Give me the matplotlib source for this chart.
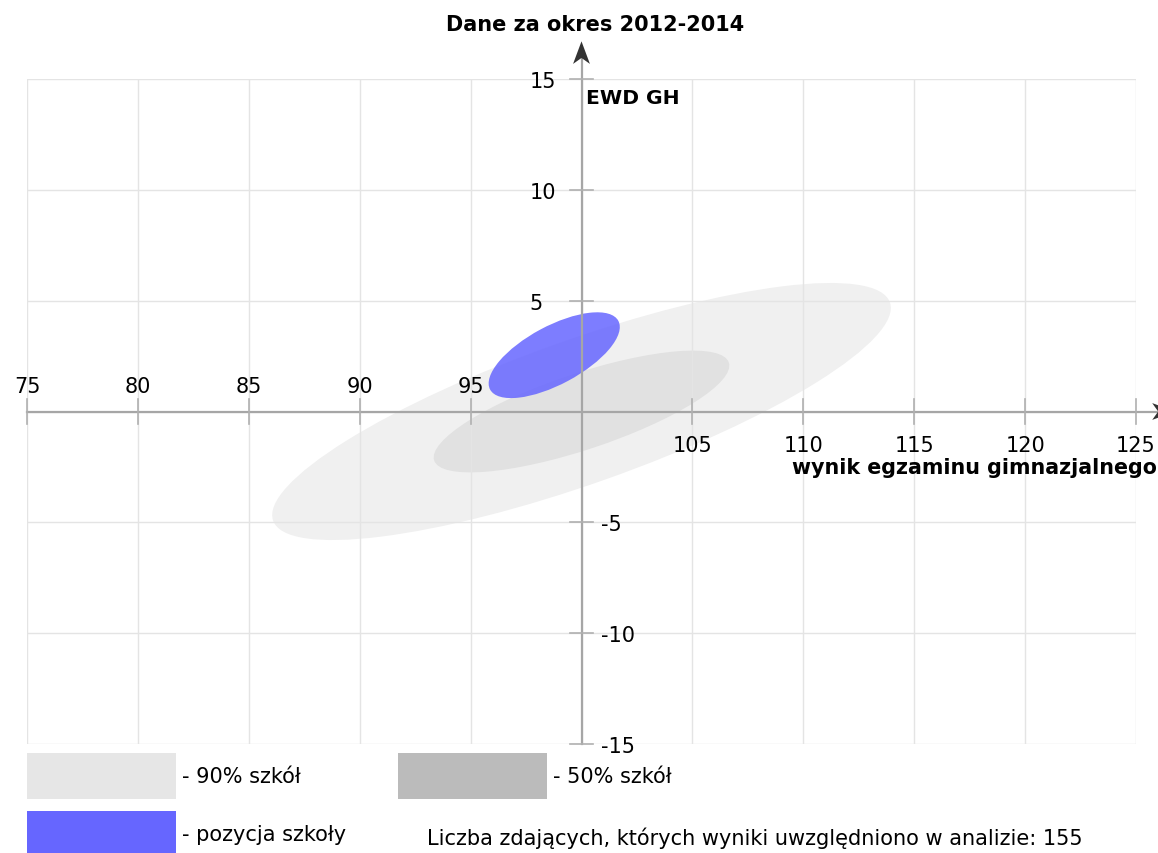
import matplotlib.pyplot as plt
from matplotlib.patches import Ellipse, Polygon, Rectangle

# ellipses: 90% of schools, 50% of schools, school position
ell_names = ["90% szkół", "50% szkół", "pozycja szkoły"]
ell_x = [100.0, 100.0, 98.77]
ell_y = [0.0, 0.0, 2.54]
ell_w = [29.5, 14.0, 6.56]
ell_h = [6.5, 3.44, 2.63]
ell_angle = [19.5, 18.4, 28.2]

x_ticks = [75, 80, 85, 90, 95, 105, 110, 115, 120, 125]
y_ticks = [15, 10, 5, -5, -10, -15]
n_students = 155

title = "Dane za okres 2012-2014"
x_label = "wynik egzaminu gimnazjalnego"
y_label = "EWD GH"

W, H = 1158, 854
fig = plt.figure(figsize=(W / 100, H / 100), dpi=100)
ax = fig.add_axes([27 / W, 1 - 745 / H, (1136 - 27) / W, (745 - 80) / H])
ax.set_xlim(75, 125)
ax.set_ylim(-15, 15)
for s in ax.spines.values():
    s.set_visible(False)
ax.set_xticks([])
ax.set_yticks([])

grid_c = "#e4e4e4"
for v in range(75, 126, 5):
    ax.plot([v, v], [-15, 15], color=grid_c, lw=1, zorder=3)
for v in range(-15, 16, 5):
    ax.plot([75, 125], [v, v], color=grid_c, lw=1, zorder=3)

# ellipses
ax.add_patch(Ellipse((ell_x[0], ell_y[0]), ell_w[0], ell_h[0], angle=ell_angle[0],
                     facecolor="#f0f0f0", edgecolor="none", zorder=1))
ax.add_patch(Ellipse((ell_x[1], ell_y[1]), ell_w[1], ell_h[1], angle=ell_angle[1],
                     facecolor="#e1e1e1", edgecolor="none", zorder=2))
ax.add_patch(Ellipse((ell_x[2], ell_y[2]), ell_w[2], ell_h[2], angle=ell_angle[2],
                     facecolor="#6666ff", edgecolor="none", alpha=0.85, zorder=4))

# axes lines with arrows
axis_c = "#a6a6a6"
ax.plot([100, 100], [-15, 16.0], color=axis_c, lw=1.6, zorder=5, clip_on=False)
ax.plot([75, 126.2], [0, 0], color=axis_c, lw=1.6, zorder=5, clip_on=False)
ax.add_patch(Polygon([(100, 16.7), (99.62, 15.68), (100, 15.95), (100.38, 15.68)],
                     closed=True, facecolor="#333333", edgecolor="none",
                     zorder=6, clip_on=False))
ax.add_patch(Polygon([(126.75, 0), (125.73, 0.38), (126.0, 0), (125.73, -0.38)],
                     closed=True, facecolor="#333333", edgecolor="none",
                     zorder=6, clip_on=False))

# tick marks and labels
fs = 15
tick_c = "#b0b0b0"
for v in x_ticks:
    ax.plot([v, v], [-0.55, 0.55], color=tick_c, lw=1.2, zorder=5, clip_on=False)
    if v < 100:
        ax.annotate(str(v), (v, 0), xytext=(0, 14), textcoords="offset points",
                    ha="center", va="baseline", fontsize=fs)
    else:
        ax.annotate(str(v), (v, 0), xytext=(0, -28.8), textcoords="offset points",
                    ha="center", va="baseline", fontsize=fs)
for v in y_ticks:
    ax.plot([99.5, 100.5], [v, v], color=tick_c, lw=1.2, zorder=5, clip_on=False)
    if v > 0:
        ax.annotate(str(v), (100, v), xytext=(-37.5, 0), textcoords="offset points",
                    ha="left", va="center_baseline", fontsize=fs)
    else:
        ax.annotate(str(v), (100, v), xytext=(14, 0), textcoords="offset points",
                    ha="left", va="center_baseline", fontsize=fs)

fig.text(595 / W, 1 - 25 / H, title, ha="center", va="center", fontsize=15,
         fontweight="bold")
fig.text(586 / W, 1 - 104 / H, y_label, ha="left", va="baseline", fontsize=14.6,
         fontweight="bold")
fig.text(1157 / W, 1 - 474 / H, x_label, ha="right", va="baseline", fontsize=14.9,
         fontweight="bold")

# legend
leg_colors = ["#e6e6e6", "#bbbbbb", "#6666ff"]
leg_x = [27, 398, 27]
leg_y = [754, 754, 812]
for c, lx, ly, name in zip(leg_colors, leg_x, leg_y, ell_names):
    fig.patches.append(Rectangle((lx / W, 1 - (ly + 46) / H), 149 / W, 46 / H,
                                 facecolor=c, edgecolor="none",
                                 transform=fig.transFigure, figure=fig))
    fig.text((lx + 155) / W, 1 - (ly + 23) / H, "- " + name, ha="left",
             va="center", fontsize=15)

fig.text(427 / W, 1 - 838 / H,
         f"Liczba zdających, których wyniki uwzględniono w analizie: {n_students}",
         ha="left", va="center", fontsize=15)

fig.savefig("out.png", dpi=100)
